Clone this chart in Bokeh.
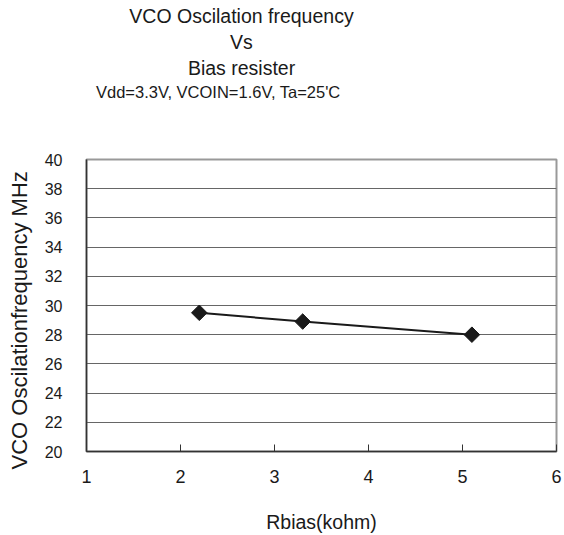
from bokeh.plotting import figure
from bokeh.models import Range1d, FixedTicker, Title
from bokeh.embed import file_html
from bokeh.resources import INLINE
import math

# data
rbias = [2.2, 3.3, 5.1]
freq = [29.5, 28.9, 28.0]
x_ticks = [1, 2, 3, 4, 5, 6]
y_ticks = [20, 22, 24, 26, 28, 30, 32, 34, 36, 38, 40]
title_lines = ["VCO Oscilation frequency", "Vs", "Bias resister"]
subtitle = "Vdd=3.3V, VCOIN=1.6V, Ta=25'C"
x_label = "Rbias(kohm)"
y_label = "VCO Oscilationfrequency MHz"

FONT = "Liberation Sans"
TXT = "#1a1a1a"

p = figure(width=564, height=535, output_backend="svg", toolbar_location=None,
           x_range=Range1d(1, 6), y_range=Range1d(20, 40),
           min_border_left=86, min_border_right=8, min_border_top=159, min_border_bottom=82)

p.background_fill_color = "white"
p.border_fill_color = "white"
p.outline_line_color = "#999999"
p.outline_line_width = 2

p.xgrid.grid_line_color = None
p.ygrid.grid_line_color = "#666666"
p.ygrid.grid_line_width = 1.2
p.ygrid.ticker = FixedTicker(ticks=y_ticks)

p.xaxis.ticker = FixedTicker(ticks=x_ticks)
p.yaxis.ticker = FixedTicker(ticks=y_ticks)

for ax in (p.xaxis[0], p.yaxis[0]):
    ax.axis_line_color = "#333333"
    ax.axis_line_width = 1.5
    ax.minor_tick_line_color = None
    ax.major_label_text_font = FONT
    ax.major_label_text_color = TXT
    ax.axis_label_text_font = FONT
    ax.axis_label_text_font_style = "normal"
    ax.axis_label_text_color = TXT

p.xaxis.major_tick_in = 7
p.xaxis.major_tick_out = 0
p.xaxis.major_tick_line_color = "#333333"
p.xaxis.major_label_text_font_size = "18px"
p.xaxis.major_label_standoff = 18
p.xaxis.axis_label = x_label
p.xaxis.axis_label_text_font_size = "19.5px"
p.xaxis.axis_label_standoff = 25

p.yaxis.major_tick_in = 0
p.yaxis.major_tick_out = 0
p.yaxis.major_label_text_font_size = "16px"
p.yaxis.major_label_standoff = 24
# invisible spacer label to widen the axis panel
p.yaxis.axis_label = " "
p.yaxis.axis_label_text_font_size = "4px"
p.yaxis.axis_label_standoff = 1

# y-axis title placed as a left-side Title so it can be offset along the axis
p.add_layout(Title(text=y_label, text_font=FONT, text_font_size="22px", text_font_style="normal",
                   text_color=TXT, align="left", offset=-18, vertical_align="bottom",
                   standoff=2), "left")

p.line(rbias, freq, line_color="#1a1a1a", line_width=2)
p.scatter(rbias, freq, marker="square", size=11, angle=math.pi / 4,
          fill_color="#1a1a1a", line_color="#1a1a1a")

# stacked titles above the plot (first added = closest to the frame)
p.add_layout(Title(text=" ", text_font=FONT, text_font_size="10px", standoff=45), "above")
p.add_layout(Title(text=subtitle, text_font=FONT, text_font_size="16.5px", text_font_style="normal",
                   text_color=TXT, align="left", offset=9.5, vertical_align="bottom", standoff=2), "above")
offsets = [42.8, 143.6, 101.4]
for txt, off in reversed(list(zip(title_lines, offsets))):
    p.add_layout(Title(text=txt, text_font=FONT, text_font_size="19.5px", text_font_style="normal",
                       text_color=TXT, align="left", offset=off, vertical_align="bottom",
                       standoff=1.5), "above")

open("out.html", "w").write(file_html(p, INLINE))
